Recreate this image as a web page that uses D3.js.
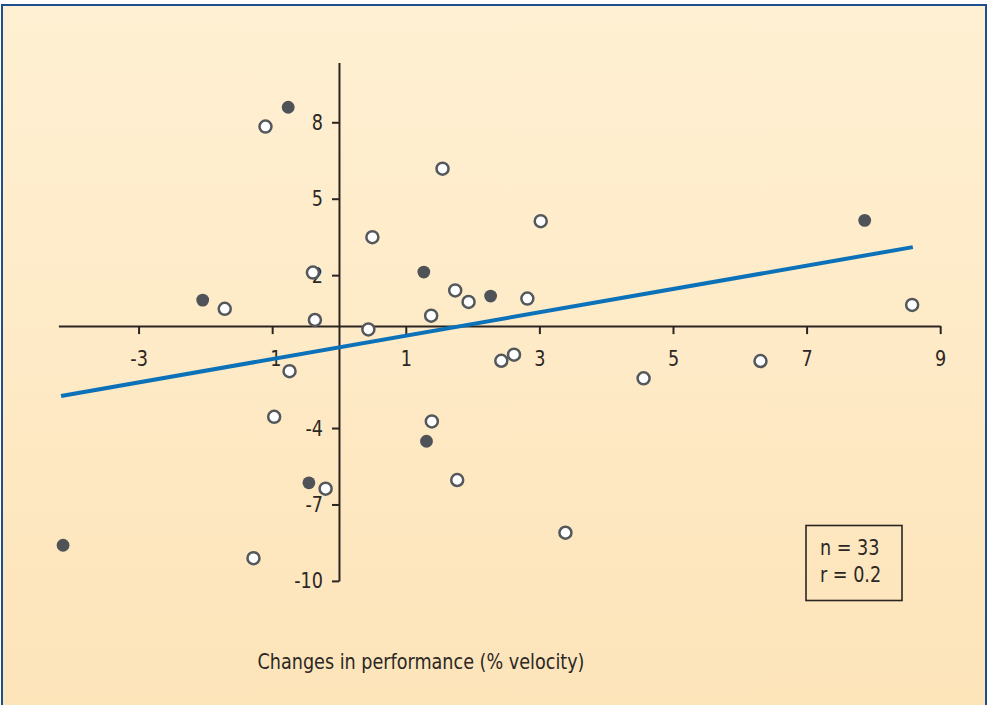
<!DOCTYPE html>
<html>
<head>
<meta charset="utf-8">
<script src="https://cdn.jsdelivr.net/npm/d3@7"></script>
<style>
  html, body { margin: 0; padding: 0; background: #fff; }
  svg { display: block; }
  text { font-family: "Liberation Sans Narrow", "DejaVu Sans Condensed", "Arial Narrow", sans-serif; font-stretch: condensed; fill: #2b2725; }
</style>
</head>
<body>
<svg id="chart" width="988" height="705"></svg>
<script>
// Change in performance (% velocity) vs. change in the paired measure
const openX = [-1.10, 0.50, -0.39, -1.71, -0.36, 0.44, 1.55, 3.02, 1.74, 1.94, 2.82, 1.38,
               2.43, 2.62, 8.58, 6.31, 4.56, -0.74, -0.97, -0.20, -1.28, 1.39, 1.77, 3.39];
const openY = [7.83, 3.49, 2.10, 0.68, 0.24, -0.13, 6.18, 4.12, 1.40, 0.95, 1.08, 0.41,
               -1.36, -1.12, 0.83, -1.37, -2.05, -1.77, -3.56, -6.38, -9.11, -3.74, -6.04, -8.11];
const filledX = [-0.76, -2.04, 1.27, 2.27, 7.87, -0.45, -4.13, 1.31];
const filledY = [8.59, 1.02, 2.12, 1.18, 4.15, -6.15, -8.60, -4.52];

// Regression line end points
const fitX = [-4.16, 8.59];
const fitY = [-2.74, 3.10];

const xTicks = [-3, -1, 1, 3, 5, 7, 9];
const yTicks = [8, 5, 2, -4, -7, -10];
const xTitle = "Changes in performance (% velocity)";
const statLines = ["n = 33", "r = 0.2"];

const svg = d3.select("#chart");

// Narrow the glyphs horizontally while keeping their anchor point in place
const K = 0.89;
function condense(sel) {
  sel.each(function () {
    const t = d3.select(this);
    const x0 = +(t.attr("x") || 0);
    t.attr("x", x0 / K).attr("transform", `scale(${K},1)`);
  });
}

// Panel background with soft vertical gradient and blue frame
const defs = svg.append("defs");
const grad = defs.append("linearGradient").attr("id", "bg").attr("x1", 0).attr("y1", 0).attr("x2", 0).attr("y2", 1);
grad.append("stop").attr("offset", "0%").attr("stop-color", "#FFF0D3");
grad.append("stop").attr("offset", "100%").attr("stop-color", "#FDE4B9");

svg.append("rect").attr("x", 0).attr("y", 0).attr("width", 988).attr("height", 705).attr("fill", "#ffffff");
svg.append("rect")
  .attr("x", 2).attr("y", 5).attr("width", 984).attr("height", 710)
  .attr("fill", "url(#bg)")
  .attr("stroke", "#1d4f8f").attr("stroke-width", 2);

const x = d3.scaleLinear().domain([-4.2, 9]).range([58.4, 940.2]);
const y = d3.scaleLinear().domain([-10, 10.35]).range([580.9, 62.4]);

const axisColor = "#2b2522";

// x axis through y = 0
const gx = svg.append("g")
  .attr("transform", `translate(0,${y(0)})`)
  .call(d3.axisBottom(x).tickValues(xTicks).tickSizeOuter(0).tickSizeInner(8).tickPadding(16)
        .tickFormat(d3.format("d")));
// y axis through x = 0
const gy = svg.append("g")
  .attr("transform", `translate(${x(0)},0)`)
  .call(d3.axisLeft(y).tickValues(yTicks).tickSizeOuter(0).tickSizeInner(7).tickPadding(9)
        .tickFormat(d3.format("d")));

[gx, gy].forEach(g => {
  g.attr("font-family", null);
  g.select(".domain").attr("stroke", axisColor).attr("stroke-width", 2);
  g.selectAll(".tick line").attr("stroke", axisColor).attr("stroke-width", 2);
  g.selectAll(".tick text").attr("font-size", 22).attr("fill", "#2b2725")
    .text(d => String(d));   // plain hyphen for negatives
  condense(g.selectAll(".tick text"));
});

// Regression line
svg.append("line")
  .attr("x1", x(fitX[0])).attr("y1", y(fitY[0]))
  .attr("x2", x(fitX[1])).attr("y2", y(fitY[1]))
  .attr("stroke", "#0b71b9").attr("stroke-width", 4);

// Points
const openPts = openX.map((v, i) => ({ x: v, y: openY[i] }));
const filledPts = filledX.map((v, i) => ({ x: v, y: filledY[i] }));

svg.append("g").selectAll("circle").data(openPts).join("circle")
  .attr("cx", d => x(d.x)).attr("cy", d => y(d.y)).attr("r", 6)
  .attr("fill", "#ffffff").attr("stroke", "#54585c").attr("stroke-width", 2.5);

svg.append("g").selectAll("circle").data(filledPts).join("circle")
  .attr("cx", d => x(d.x)).attr("cy", d => y(d.y)).attr("r", 6.4)
  .attr("fill", "#4f5257");

// Statistics box
svg.append("rect")
  .attr("x", 806).attr("y", 525.5).attr("width", 96).attr("height", 75)
  .attr("fill", "none").attr("stroke", axisColor).attr("stroke-width", 1.6);
svg.append("g").selectAll("text").data(statLines).join("text")
  .attr("x", 820).attr("y", (d, i) => 555 + i * 27)
  .attr("font-size", 22).text(d => d)
  .call(condense);

// Axis title
svg.append("text")
  .attr("x", 421).attr("y", 669).attr("text-anchor", "middle")
  .attr("font-size", 22).text(xTitle)
  .call(condense);
</script>
</body>
</html>
